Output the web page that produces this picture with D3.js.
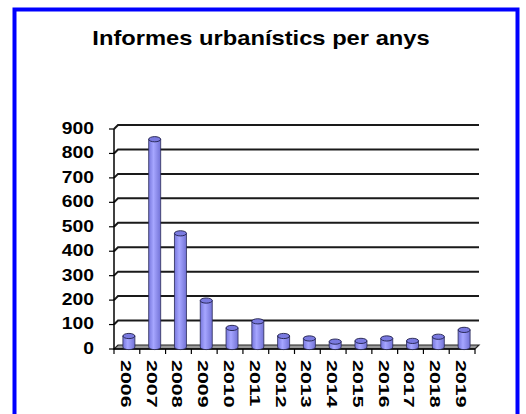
<!DOCTYPE html>
<meta charset="utf-8">
<script src="https://d3js.org/d3.v7.min.js"></script>
<style>
  body { margin: 0; background: #fff; }
  text { font-family: Arial, "Liberation Sans", sans-serif; font-weight: bold; fill: #000; }
</style>
<svg id="my_dataviz" width="526" height="414"></svg>
<script>
// data
var years = ["2006","2007","2008","2009","2010","2011","2012","2013","2014","2015","2016","2017","2018","2019"];
var informes = [45, 850, 465, 190, 78, 105, 45, 35, 22, 25, 35, 25, 42, 70];
var yTicks = [0, 100, 200, 300, 400, 500, 600, 700, 800, 900];

var svg = d3.select("svg");

// 3d depth of the plot box
var dx = 4, dy = -4;

var x = d3.scaleBand()
    .domain(years)
    .range([114, 475]);

var y = d3.scaleLinear()
    .domain([0, 900])
    .range([349, 129]);

// gradient for the cylinders
var defs = svg.append("defs");
var grad = defs.append("linearGradient").attr("id", "cyl").attr("x1", 0).attr("x2", 1).attr("y1", 0).attr("y2", 0);
grad.append("stop").attr("offset", "0%").attr("stop-color", "#7777dd");
grad.append("stop").attr("offset", "40%").attr("stop-color", "#a6a6ff");
grad.append("stop").attr("offset", "100%").attr("stop-color", "#7272d6");

// outer blue frame
svg.append("rect")
    .attr("x", 14.5).attr("y", 9.5)
    .attr("width", 503).attr("height", 430)
    .attr("fill", "#fff")
    .attr("stroke", "#0000ff")
    .attr("stroke-width", 4);

// title (excel draws it wider than arial)
svg.append("text")
    .attr("transform", "translate(261,45) scale(1.13,1)")
    .attr("text-anchor", "middle")
    .style("font-size", "21px")
    .text("Informes urbanístics per anys");

// floor
var x0 = x.range()[0], x1 = x.range()[1];
svg.append("path")
    .attr("d", "M" + x0 + "," + y(0) + "L" + x1 + "," + y(0) + "L" + (x1 + dx) + "," + (y(0) + dy) +
               "L" + (x0 + dx) + "," + (y(0) + dy) + "Z")
    .attr("fill", "#9a9a9a")
    .attr("stroke", "#222")
    .attr("stroke-width", 1.2);

// gridlines on back wall + side wall connectors
var grid = svg.append("g");
yTicks.filter(function(d){ return d > 0; }).forEach(function(v) {
  grid.append("path")
      .attr("d", "M" + x0 + "," + y(v) + "L" + (x0 + dx) + "," + (y(v) + dy) + "L" + (x1 + dx) + "," + (y(v) + dy))
      .attr("fill", "none")
      .attr("stroke", "#1a1a1a")
      .attr("stroke-width", 2);
});

// y axis line and ticks
svg.append("line")
    .attr("x1", x0).attr("x2", x0)
    .attr("y1", y(0)).attr("y2", y(900))
    .attr("stroke", "#000").attr("stroke-width", 1.5);

svg.append("g").selectAll("line")
  .data(yTicks)
  .enter().append("line")
    .attr("x1", x0 - 5).attr("x2", x0)
    .attr("y1", function(d){ return y(d); })
    .attr("y2", function(d){ return y(d); })
    .attr("stroke", "#000").attr("stroke-width", 1.2);

svg.append("g").selectAll("text")
  .data(yTicks)
  .enter().append("text")
    .attr("transform", function(d){ return "translate(94," + (y(d) - 1) + ") scale(1.17,1)"; })
    .attr("dy", "0.36em")
    .attr("text-anchor", "end")
    .style("font-size", "16.5px")
    .text(function(d){ return d; });

// x axis line and ticks
svg.append("line")
    .attr("x1", x0).attr("x2", x1)
    .attr("y1", y(0)).attr("y2", y(0))
    .attr("stroke", "#000").attr("stroke-width", 1.5);

svg.append("g").selectAll("line")
  .data(years.concat(["end"]))
  .enter().append("line")
    .attr("x1", function(d, i){ return x0 + i * x.bandwidth(); })
    .attr("x2", function(d, i){ return x0 + i * x.bandwidth(); })
    .attr("y1", y(0)).attr("y2", y(0) + 5)
    .attr("stroke", "#000").attr("stroke-width", 1.2);

svg.append("g").selectAll("text")
  .data(years)
  .enter().append("text")
    .attr("transform", function(d){ return "translate(" + (x(d) + x.bandwidth() / 2 - 0.5) + ",360) rotate(90) scale(1.38,1)"; })
    .attr("dy", "0.36em")
    .style("font-size", "15.5px")
    .text(function(d){ return d; });

// cylinders
var rx = 6, ry = 2.6;
var bars = svg.append("g").selectAll("g")
  .data(years)
  .enter().append("g");

bars.each(function(d, i) {
  var g = d3.select(this);
  var cx = x(d) + x.bandwidth() / 2 + dx / 2;
  var base = y(0) + dy / 2;
  var top = y(informes[i]) + dy / 2;
  g.append("path")
      .attr("d", "M" + (cx - rx) + "," + top +
                 "L" + (cx - rx) + "," + base +
                 "A" + rx + "," + ry + " 0 0 0 " + (cx + rx) + "," + base +
                 "L" + (cx + rx) + "," + top + "Z")
      .attr("fill", "url(#cyl)")
      .attr("stroke", "#2a2a55")
      .attr("stroke-width", 0.8);
  g.append("ellipse")
      .attr("cx", cx).attr("cy", top)
      .attr("rx", rx).attr("ry", ry)
      .attr("fill", "#7a7ae0")
      .attr("stroke", "#1f1f4a")
      .attr("stroke-width", 0.9);
});
</script>
